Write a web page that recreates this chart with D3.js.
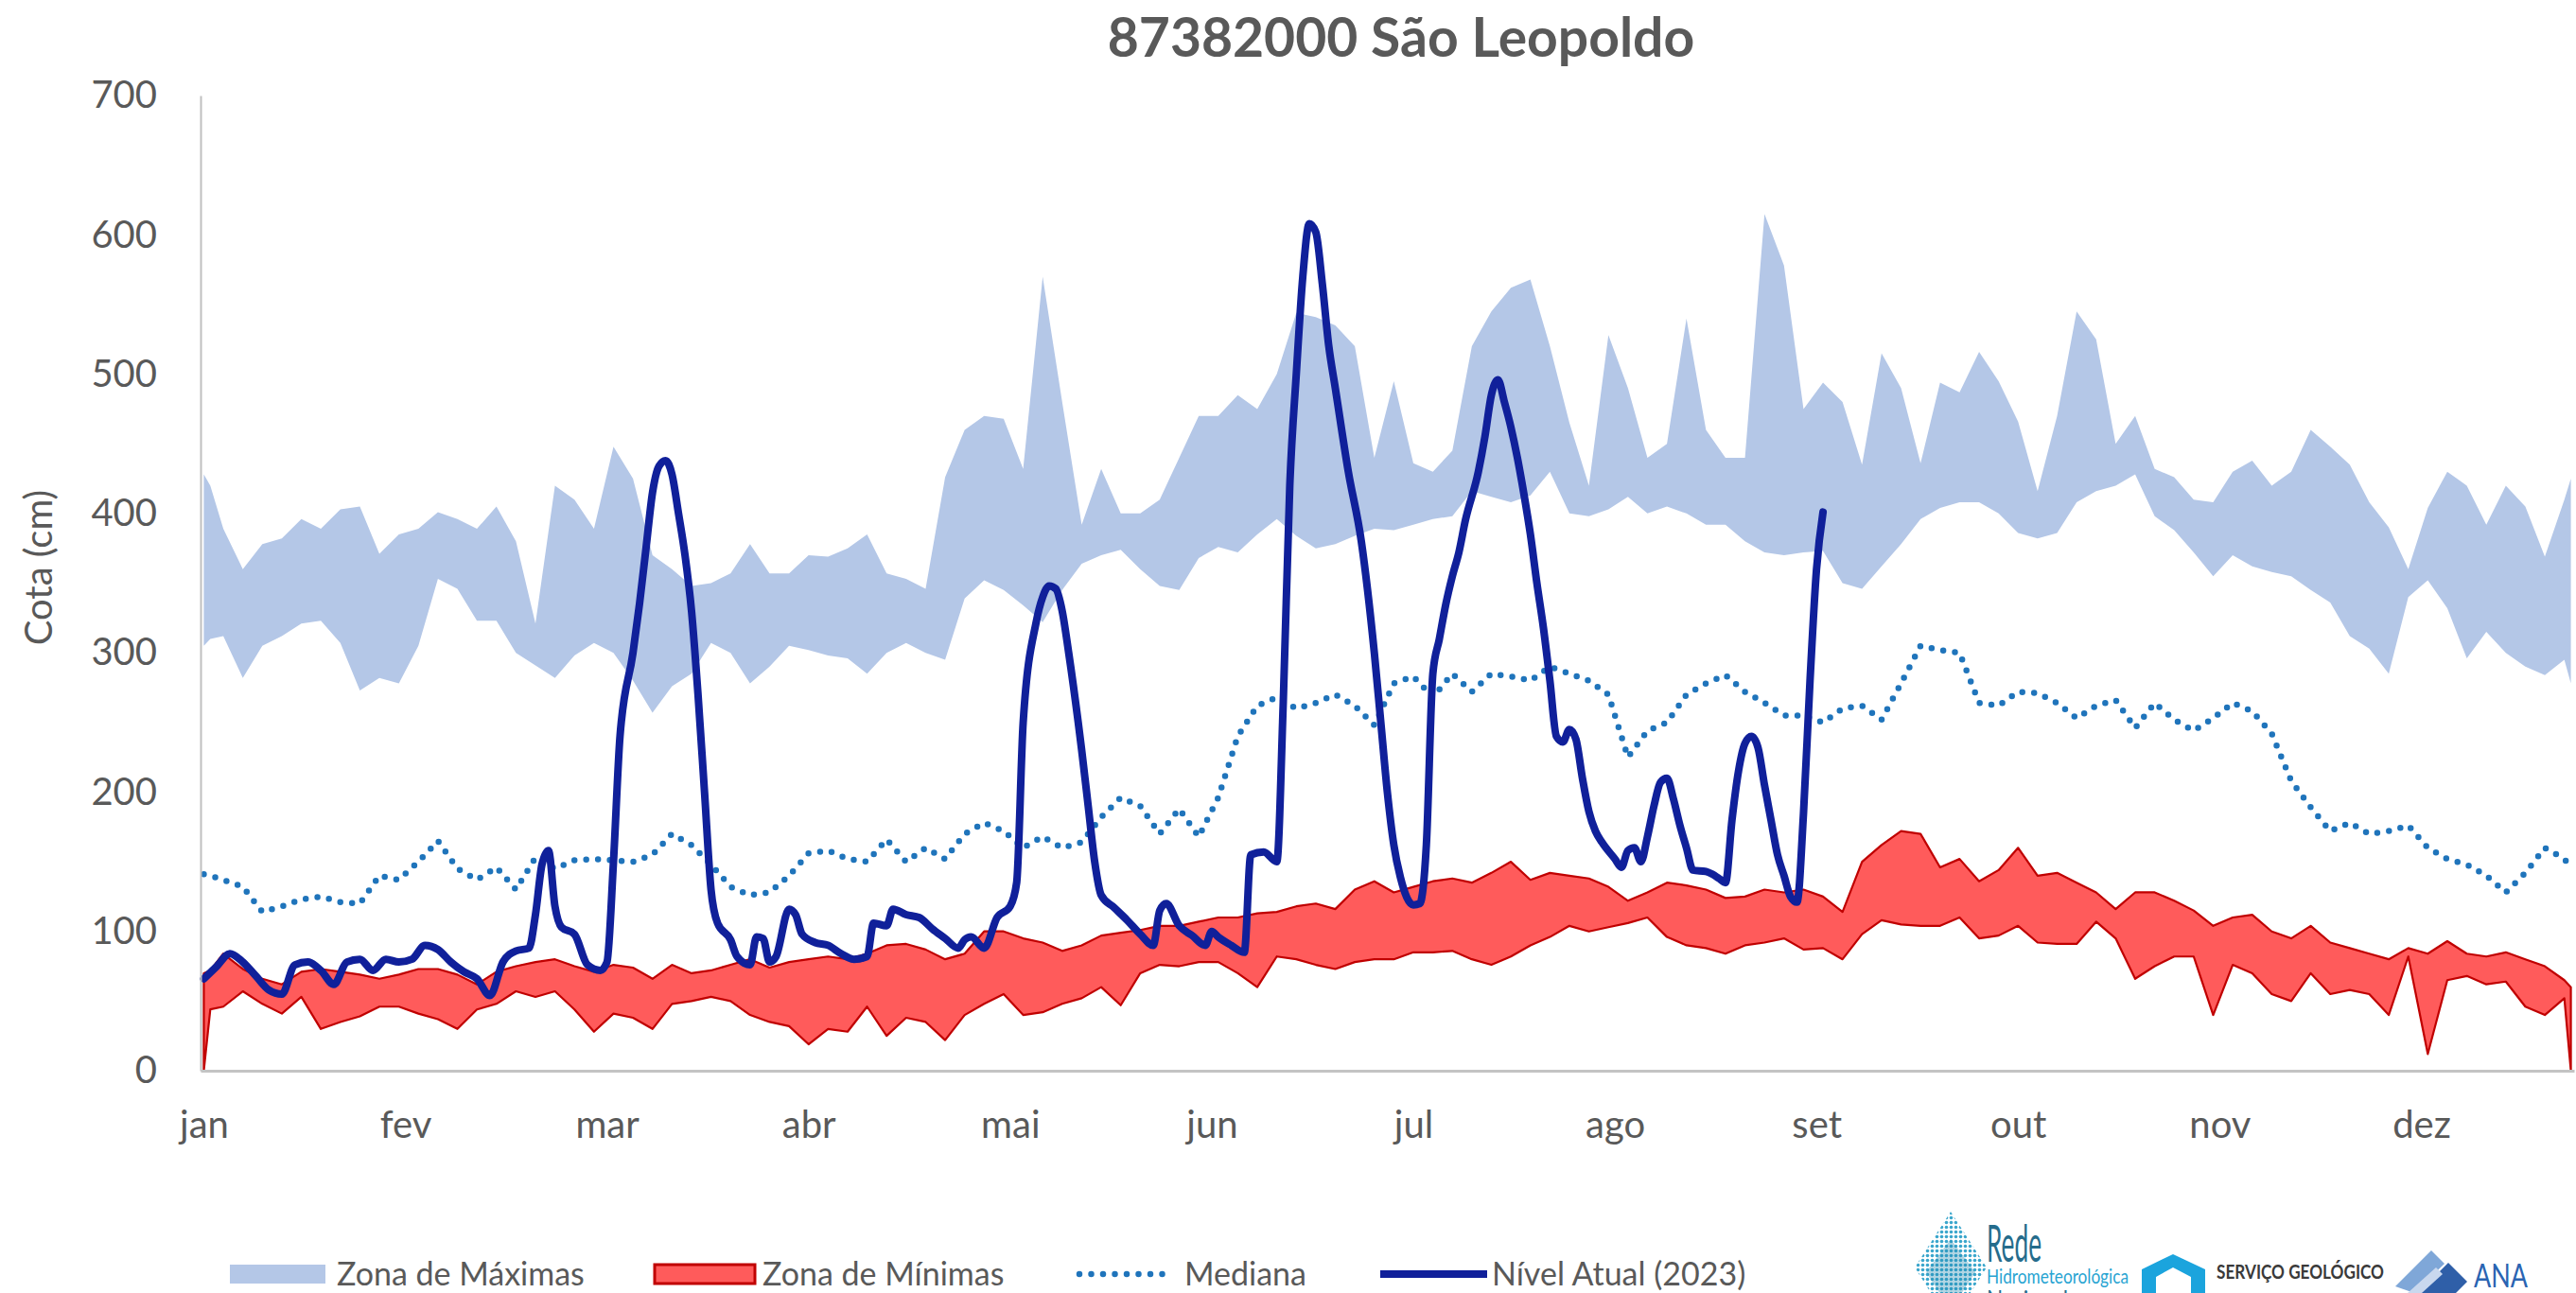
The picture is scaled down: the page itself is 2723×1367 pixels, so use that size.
<!DOCTYPE html>
<html>
<head>
<meta charset="utf-8">
<script src="https://cdn.jsdelivr.net/npm/d3@7"></script>
<style>
  html, body { margin: 0; padding: 0; background: #ffffff; }
  svg { display: block; }
  text { font-family: Lato, "Open Sans", "Noto Sans", sans-serif; }
</style>
</head>
<body>
<svg id="chart" width="2723" height="1367"></svg>
<script>
// ---- Data: daily water level (cm), day index 0 = 1 January ----

// Day indices at which the seasonal envelopes are sampled
const days = [0,1,3,6,9,12,15,18,21,24,27,30,33,36,39,42,45,48,51,54,57,60,63,66,69,72,75,78,81,84,87,90,93,96,99,102,105,108,111,114,117,120,123,126,129,132,135,138,141,144,147,150,153,156,159,162,165,168,171,174,177,180,183,186,189,192,195,198,201,204,207,210,213,216,219,222,225,228,231,234,237,240,243,246,249,252,255,258,261,264,267,270,273,276,279,282,285,288,291,294,297,300,303,306,309,312,315,318,321,324,327,330,333,336,339,342,345,348,351,354,357,360,363,364];

// Zona de Máximas: upper and lower edge
const maxHigh = [428,420,389,360,378,382,396,389,403,405,371,385,389,401,396,389,405,380,321,420,410,389,448,425,370,360,348,350,357,378,357,357,370,369,375,385,357,353,346,426,460,470,468,432,570,480,392,432,400,400,410,440,470,470,485,475,500,544,541,535,520,440,495,436,430,445,520,545,562,568,520,465,420,528,490,440,450,540,460,440,440,615,578,475,494,480,435,515,490,436,494,487,516,495,466,416,470,545,525,450,470,432,426,410,408,430,438,420,430,460,448,435,408,390,360,404,430,420,392,420,405,369,410,425];
const maxLow = [305,310,312,282,305,312,321,323,307,273,282,278,305,353,346,323,323,300,291,282,298,307,300,280,257,276,285,307,300,278,290,305,302,298,296,285,300,307,300,295,339,352,345,334,322,345,364,370,374,360,348,345,368,376,372,385,396,384,375,378,384,389,388,392,396,398,416,412,408,413,430,400,398,403,412,400,405,400,392,392,380,372,370,372,373,350,346,362,378,396,404,408,408,400,386,382,386,408,416,420,428,398,388,372,355,370,362,358,355,345,336,312,303,285,340,352,332,296,315,300,290,284,295,278];

// Zona de Mínimas: upper and lower edge
const minHigh = [70,72,84,73,66,62,71,73,71,69,66,69,73,73,69,62,71,75,78,80,75,71,76,74,66,76,70,72,76,80,74,78,80,82,80,84,90,91,87,80,84,100,100,95,92,86,90,97,99,101,104,104,107,110,110,113,114,118,120,116,130,136,128,132,136,138,135,142,150,137,142,140,138,132,122,128,135,133,130,124,125,130,128,130,125,114,150,162,172,170,146,152,136,144,160,140,142,135,128,116,128,128,122,115,104,110,112,100,95,104,92,88,84,80,88,84,93,84,82,85,80,75,65,60];
const minLow = [0,44,46,57,48,41,53,30,35,39,46,46,41,37,30,44,48,57,53,57,44,28,41,38,30,48,50,53,50,40,35,32,19,30,28,46,25,38,35,22,40,48,55,40,42,48,52,60,47,70,76,75,78,78,70,60,82,80,76,73,78,80,80,85,85,86,80,76,82,90,96,104,100,103,106,110,96,90,88,84,90,92,95,87,88,80,98,108,105,104,104,110,95,97,104,92,91,91,107,95,66,75,82,82,40,76,70,55,50,70,55,58,55,40,82,12,65,68,62,64,46,40,52,0];

// Mediana
const median = [141,140,137,132,114,118,123,125,121,120,140,137,150,165,145,137,146,130,153,145,151,152,151,150,155,170,162,148,132,126,128,140,156,158,152,150,166,150,160,152,170,178,172,160,168,160,164,182,196,190,170,188,168,196,240,262,268,260,264,270,262,248,278,283,268,285,272,285,283,280,290,285,280,270,225,244,250,270,278,284,272,264,255,255,250,260,262,252,278,305,302,300,264,262,272,271,264,253,262,266,246,264,252,244,253,264,258,242,208,189,172,178,170,172,176,160,152,148,140,128,142,160,152,146];

// Nível Atual (2023)
const curDays = [0,2,4,6,8,10,12,14,16,18,20,22,24,26,28,30,32,34,36,38,40,42,44,46,48,50,51,52,53,54,55,57,59,61,62,63,64,66,67,68,69,70,71,72,73,74,75,76,77,78,79,81,82,84,85,86,87,88,90,91,92,94,96,98,100,102,103,105,106,108,110,112,114,116,117,118,120,122,124,125,126,128,129,130,131,132,133,135,136,137,138,140,142,144,146,147,148,150,152,154,155,156,158,160,161,163,165,166,167,168,169,170,171,172,173,174,176,178,180,181,182,183,184,186,187,188,189,190,191,192,193,194,196,197,198,199,200,201,202,203,204,205,206,207,208,209,210,211,212,213,214,215,217,218,219,220,221,222,223,224,225,226,227,228,229,231,232,233,234,235,236,237,238,239,240,241,242,243,244,245,246,247,248,249];
const curLevel = [66,75,84,78,68,58,55,76,78,72,62,78,80,72,80,78,80,90,87,78,71,66,54,78,86,88,112,148,158,118,103,98,76,72,78,150,240,300,335,375,415,434,438,428,400,370,330,270,200,130,106,94,82,76,96,95,78,82,116,112,98,92,90,84,80,82,106,104,116,112,110,102,95,88,94,96,88,110,118,135,250,322,340,348,346,330,300,230,190,150,126,117,108,98,90,115,120,104,97,90,100,96,90,85,155,157,150,265,420,500,570,608,602,565,520,490,430,380,300,250,200,162,139,119,120,162,285,310,335,355,372,395,430,455,485,496,480,462,440,414,385,350,318,280,240,236,245,238,210,186,172,164,152,146,158,160,150,168,190,207,210,195,176,160,144,143,141,138,135,180,215,235,240,232,205,180,155,140,125,121,185,280,360,401];

// Axis labels
const yTicks = [0,100,200,300,400,500,600,700];
const monthLabels = ["jan","fev","mar","abr","mai","jun","jul","ago","set","out","nov","dez"];
const monthTicks = [0,31,62,93,124,155,186,217,248,279,310,341];

// ---- Drawing ----
const W = 2723, H = 1367;
const svg = d3.select("#chart");
svg.append("rect").attr("width", W).attr("height", H).attr("fill", "#ffffff");

const x = d3.scaleLinear().domain([-0.5, 364.5]).range([212, 2721]);
const y = d3.scaleLinear().domain([0, 700]).range([1132, 101]);

const grey = "#595959";
const colMax = "#b4c7e7";
const colMinFill = "#ff5b5b";
const colMinLine = "#c00000";
const colMedian = "#1f74bb";
const colCurrent = "#10209a";

const rows = days.map((d, i) => ({
  d, hi: maxHigh[i], lo: maxLow[i], mhi: minHigh[i], mlo: minLow[i], med: median[i]
}));

// Zona de Máximas
svg.append("path").datum(rows)
  .attr("d", d3.area().x(p => x(p.d)).y0(p => y(p.lo)).y1(p => y(p.hi)))
  .attr("fill", colMax);

// Zona de Mínimas
svg.append("path").datum(rows)
  .attr("d", d3.area().x(p => x(p.d)).y0(p => y(p.mlo)).y1(p => y(p.mhi)))
  .attr("fill", colMinFill)
  .attr("stroke", colMinLine).attr("stroke-width", 2.2).attr("stroke-linejoin", "round");

// Mediana (round dotted line)
svg.append("path").datum(rows)
  .attr("d", d3.line().x(p => x(p.d)).y(p => y(p.med)))
  .attr("fill", "none").attr("stroke", colMedian)
  .attr("stroke-width", 6.5).attr("stroke-linecap", "round")
  .attr("stroke-dasharray", "0 12.5");

// Nível Atual
const cur = curDays.map((d, i) => ({ d, v: curLevel[i] }));
svg.append("path").datum(cur)
  .attr("d", d3.line().curve(d3.curveMonotoneX).x(p => x(p.d)).y(p => y(p.v)))
  .attr("fill", "none").attr("stroke", colCurrent)
  .attr("stroke-width", 8).attr("stroke-linejoin", "round").attr("stroke-linecap", "round");

// Axes
const gy = svg.append("g").attr("transform", "translate(212,0)")
  .call(d3.axisLeft(y).tickValues(yTicks).tickSize(0).tickPadding(46).tickFormat(d3.format("d")));
gy.select(".domain").attr("stroke", "#bfbfbf").attr("stroke-width", 2);
gy.selectAll("text").attr("font-size", 40).attr("fill", grey).attr("font-family", "Lato");

const gx = svg.append("g").attr("transform", "translate(0,1132)")
  .call(d3.axisBottom(x).tickValues(monthTicks).tickSize(0).tickPadding(43)
    .tickFormat((d, i) => monthLabels[i]));
gx.select(".domain").attr("stroke", "#c4c4c4").attr("stroke-width", 3);
gx.selectAll("text").attr("font-size", 40).attr("fill", grey).attr("font-family", "Lato");

// Title
svg.append("text").attr("x", 1481).attr("y", 60).attr("text-anchor", "middle")
  .attr("font-size", 57).attr("font-weight", "bold").attr("fill", grey)
  .text("87382000 São Leopoldo");

// Y axis title
svg.append("text").attr("transform", "translate(55,600) rotate(-90)")
  .attr("text-anchor", "middle").attr("font-size", 40).attr("fill", grey)
  .text("Cota (cm)");

// Legend
const lg = svg.append("g");
const ly = 1347;
lg.append("rect").attr("x", 243).attr("y", ly - 10).attr("width", 101).attr("height", 20).attr("fill", colMax);
lg.append("text").attr("x", 356).attr("y", ly + 12).attr("font-size", 34).attr("fill", grey).text("Zona de Máximas");
lg.append("rect").attr("x", 692).attr("y", ly - 10).attr("width", 106).attr("height", 20)
  .attr("fill", colMinFill).attr("stroke", colMinLine).attr("stroke-width", 3);
lg.append("text").attr("x", 806).attr("y", ly + 12).attr("font-size", 34).attr("fill", grey).text("Zona de Mínimas");
lg.append("line").attr("x1", 1141).attr("x2", 1240).attr("y1", ly).attr("y2", ly)
  .attr("stroke", colMedian).attr("stroke-width", 6.5).attr("stroke-linecap", "round").attr("stroke-dasharray", "0 12.5");
lg.append("text").attr("x", 1252).attr("y", ly + 12).attr("font-size", 34).attr("fill", grey).text("Mediana");
lg.append("line").attr("x1", 1459).attr("x2", 1572).attr("y1", ly).attr("y2", ly)
  .attr("stroke", colCurrent).attr("stroke-width", 8);
lg.append("text").attr("x", 1577).attr("y", ly + 12).attr("font-size", 34).attr("fill", grey).text("Nível Atual (2023)");

// Institutional marks, bottom right
const defs = svg.append("defs");
const pat = defs.append("pattern").attr("id", "dropDots").attr("patternUnits", "userSpaceOnUse")
  .attr("width", 5).attr("height", 5);
pat.append("circle").attr("cx", 2.5).attr("cy", 2.5).attr("r", 1.8).attr("fill", "#3aa6cc");
const logos = svg.append("g");
logos.append("path")
  .attr("d", "M2062,1281 L2100,1340 L2062,1400 L2024,1340 Z")
  .attr("fill", "url(#dropDots)");
logos.append("path")
  .attr("d", "M2062,1310 L2088,1345 L2062,1385 L2036,1345 Z")
  .attr("fill", "#1f86b0").attr("opacity", 0.35);
logos.append("text").attr("x", 2100).attr("y", 1334).attr("font-size", 54).attr("fill", "#256c8c")
  .attr("textLength", 58).attr("lengthAdjust", "spacingAndGlyphs").text("Rede");
logos.append("text").attr("x", 2100).attr("y", 1357).attr("font-size", 21).attr("fill", "#28a4d2")
  .attr("textLength", 150).attr("lengthAdjust", "spacingAndGlyphs").text("Hidrometeorológica");
logos.append("text").attr("x", 2100).attr("y", 1385).attr("font-size", 28).attr("fill", "#256c8c")
  .attr("textLength", 86).attr("lengthAdjust", "spacingAndGlyphs").text("Nacional");
logos.append("path")
  .attr("d", "M2264,1367 L2264,1342 L2297,1326 L2331,1342 L2331,1367 L2316,1367 L2316,1350 L2297,1340 L2279,1350 L2279,1367 Z")
  .attr("fill", "#1ba4dd");
logos.append("text").attr("x", 2343).attr("y", 1352).attr("font-size", 20).attr("font-weight", "bold")
  .attr("fill", "#3a3a3a").attr("textLength", 177).attr("lengthAdjust", "spacingAndGlyphs").text("SERVIÇO GEOLÓGICO");
logos.append("path").attr("d", "M2532,1360 L2570,1322 L2584,1336 L2552,1367 Z").attr("fill", "#7fa7d8");
logos.append("path").attr("d", "M2556,1367 L2588,1335 L2608,1355 L2596,1367 Z").attr("fill", "#2f5fa8");
logos.append("path").attr("d", "M2545,1367 L2575,1340 L2582,1347 L2560,1367 Z").attr("fill", "#c9d8ee");
logos.append("text").attr("x", 2615).attr("y", 1361).attr("font-size", 34).attr("fill", "#2a64b2")
  .attr("textLength", 57).attr("lengthAdjust", "spacingAndGlyphs").text("ANA");
</script>
</body>
</html>
